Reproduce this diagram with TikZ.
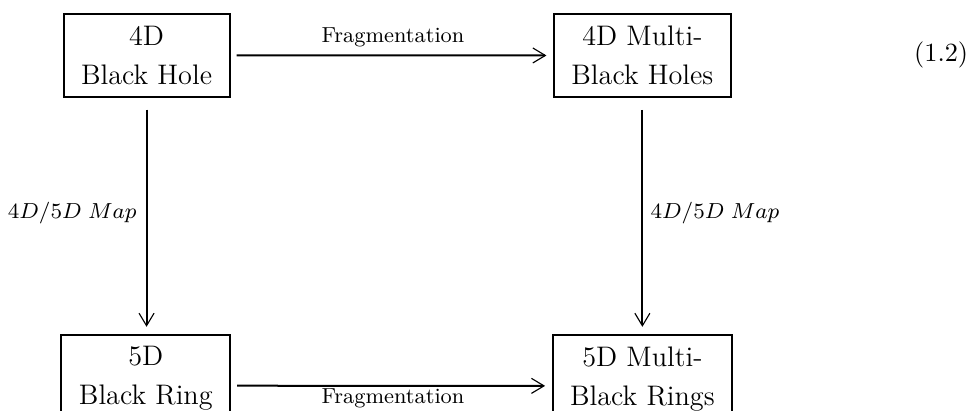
\RequirePackage{fix-cm}
\documentclass[tikz,border=0pt]{standalone}
\usepackage{amsmath}
\usetikzlibrary{arrows.meta,positioning}
\tikzset{
  % Boxed configuration, two centred lines.
  diag/state/.style={
    draw=black, line width=0.8pt, align=center,
    inner xsep=7pt, inner ysep=4.8pt,
    font=\fontsize{11.3}{15.6}\selectfont, text=black
  },
  % Maps between configurations: thick shaft, thin open head.
  diag/arrow/.style={
    -{Straight Barb[length=5pt,width=6pt,line width=0.45pt]},
    line width=0.8pt, draw=black
  },
  % Small labels on the maps.
  diag/label/.style={
    font=\fontsize{8.7}{10}\selectfont, text=black, inner sep=0pt
  },
}

\begin{document}
\begin{tikzpicture}[x=1mm, y=1mm]
  \useasboundingbox (0,0) rectangle (137.2,57.64);

  \node[diag/state, anchor=north] (bh)  at (20.6,55.81) {4D\\Black Hole};
  \node[diag/state, anchor=north] (mbh) at (90.3,55.81) {4D Multi-\\Black Holes};
  \node[diag/state, anchor=north] (br)  at (20.5,10.75) {5D\\Black Ring};
  \node[diag/state, anchor=north] (mbr) at (90.3,10.75) {5D Multi-\\Black Rings};

  \draw[diag/arrow, shorten <=2.4pt, shorten >=2.6pt] (bh.east) -- (mbh.west);
  \draw[diag/arrow, shorten <=2.4pt, shorten >=2.6pt]
       ([yshift=-1mm]br.east) -- ([yshift=-1mm]mbr.west);
  \draw[diag/arrow, shorten <=4.8pt, shorten >=2.7pt] (bh.south) -- (bh.south |- br.north);
  \draw[diag/arrow, shorten <=4.8pt, shorten >=2.7pt] (mbh.south) -- (mbh.south |- mbr.north);

  \node[diag/label, anchor=south] (fragtop) at (55.25,51.0) {Fragmentation};
  \node[diag/label, anchor=north] (fragbot) at (55.25,3.0) {Fragmentation};
  \node[diag/label, anchor=east]  (mapl)    at (19.26,27.69) {$4D/5D\;Map$};
  \node[diag/label, anchor=west]  (mapr)    at (91.38,27.69) {$4D/5D\;Map$};

  \node[font=\fontsize{10.5}{12}\selectfont, inner sep=0pt] (eqn) at (132.3,49.9) {(1.2)};
\end{tikzpicture}
\end{document}
